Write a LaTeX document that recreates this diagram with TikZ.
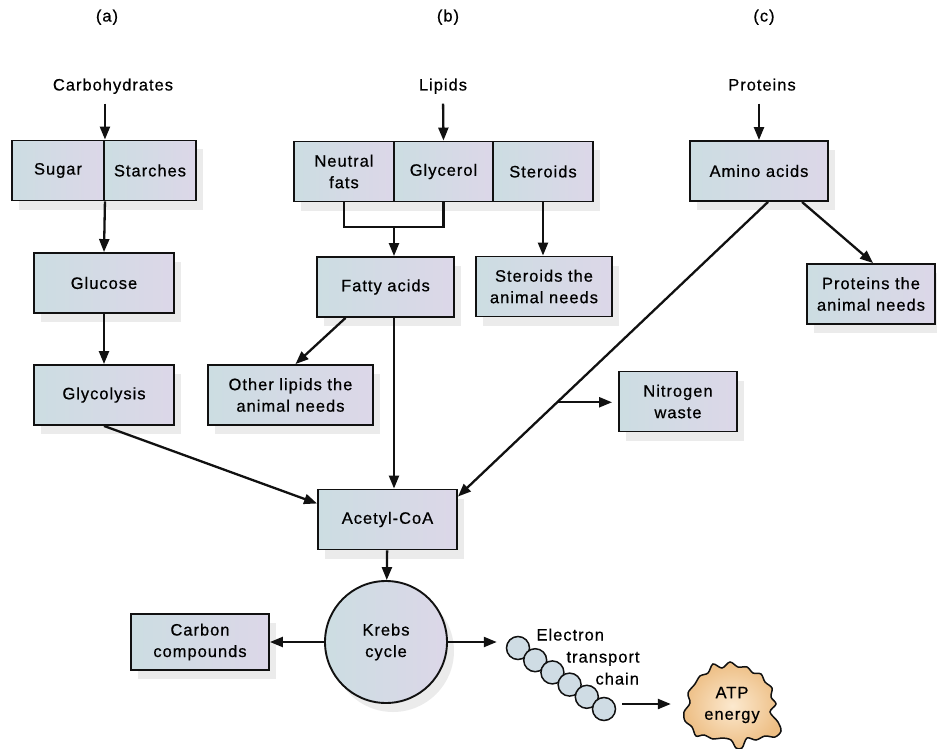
\documentclass[tikz,border=0pt]{standalone}
\usepackage{fontspec}
\setmainfont{Liberation Sans}[LetterSpace=6, FakeBold=0.6]
\usetikzlibrary{arrows.meta, shadows}
\definecolor{boxleft}{HTML}{CCDDE2}
\definecolor{boxright}{HTML}{DCD7E8}
\definecolor{linecolor}{HTML}{111111}
\definecolor{shadowcolor}{HTML}{EBEBEB}
\definecolor{atpinner}{HTML}{FCE9CF}
\definecolor{atpouter}{HTML}{EDBE84}
\definecolor{beadfill}{HTML}{CFDCE4}
\newcommand{\txt}{\fontsize{16.5}{21.5}\selectfont}
\tikzset{
    box/.style={draw=linecolor, line width=1.9pt, left color=boxleft, right color=boxright,
        align=center, inner sep=0pt, minimum height=60pt, font=\txt,
        drop shadow={shadow xshift=7pt, shadow yshift=-9pt, fill=shadowcolor, opacity=1}},
    heading/.style={font=\txt, text height=0.75em, text depth=0.25em},
    arr/.style={draw=linecolor, line width=2.3pt, -{Triangle[length=13pt, width=10pt]}},
    link/.style={draw=linecolor, line width=2.3pt},
    bead/.style={circle, draw=linecolor, line width=1.5pt, fill=beadfill, minimum size=23pt, inner sep=0pt}
}

\begin{document}
\begin{tikzpicture}[x=1pt, y=-1pt]
        \useasboundingbox (0,0) rectangle (937,749);

        \node[heading] (parta) at (107,19) {(a)};
        \node[heading] (partb) at (448,19) {(b)};
        \node[heading] (partc) at (764,19) {(c)};

        \node[heading] (carbo) at (113,88) {Carbohydrates};
        \node[heading] (lipids) at (443,88) {Lipids};
        \node[heading] (proteins) at (762,88) {Proteins};

        % carbohydrates
        \node[box, minimum width=92pt] (sugar) at (58,170.5) {Sugar};
        \node[box, minimum width=92pt] (starches) at (150,170.5) {Starches};
        \node[box, minimum width=140pt] (glucose) at (104,283) {Glucose};
        \node[box, minimum width=140pt] (glycolysis) at (104,395) {Glycolysis};

        % lipids
        \node[box, minimum width=100pt] (neutral) at (344,171.5) {Neutral\\fats};
        \node[box, minimum width=99pt] (glycerol) at (443.5,171.5) {Glycerol};
        \node[box, minimum width=100pt] (steroids) at (543,171.5) {Steroids};
        \node[box, minimum width=137pt] (fatty) at (385.5,287) {Fatty acids};
        \node[box, minimum width=136pt] (sterneed) at (544,286.5) {Steroids the\\animal needs};
        \node[box, minimum width=165pt] (otherlip) at (290.5,395) {Other lipids the\\animal needs};

        % proteins
        \node[box, minimum width=138pt] (amino) at (759,171) {Amino acids};
        \node[box, minimum width=128pt] (protneed) at (871,294) {Proteins the\\animal needs};
        \node[box, minimum width=118pt] (nitrogen) at (678,401.5) {Nitrogen\\waste};

        \node[box, minimum width=139pt] (acetyl) at (387.5,519.5) {Acetyl-CoA};
        \node[box, circle, minimum size=122pt] (krebs) at (386,642) {Krebs\\cycle};
        \node[box, minimum width=138pt, minimum height=56pt] (carbon) at (200,642) {Carbon\\compounds};

        \foreach \i in {1,...,6}
            \node[bead] (etc\i) at ({518+17.2*(\i-1)},{648+12.2*(\i-1)}) {};
        \node[heading, anchor=west] (etca) at (533,638) {Electron};
        \node[heading, anchor=west] (etcb) at (563,660) {transport};
        \node[heading, anchor=west] (etcc) at (592,682) {chain};

        \draw[draw=linecolor, line width=1.5pt, inner color=atpinner, outer color=atpouter]
            plot[smooth cycle, tension=0.55] coordinates {
            (684,712) (690,703) (688,693) (695,684) (700,676) (708,673) (713,664) (722,668)
            (730,662) (738,667) (747,667) (753,673) (761,674) (765,682) (772,688) (771,697)
            (776,704) (770,712) (778,722) (781,731) (775,737) (765,736) (756,740) (747,738)
            (742,748) (736,748) (731,740) (722,738) (713,739) (704,735) (696,736) (692,727)
            (685,721)};
        \node[font=\txt, align=center, minimum width=98pt] (atp) at (732,705) {ATP\\energy};

        \coordinate (join) at (394,227);

        \draw[arr, shorten <=7pt] (carbo.south -| sugar.north east) -- (sugar.north east);
        \draw[arr] (sugar.south east) -- (glucose.north);
        \draw[arr] (glucose) -- (glycolysis);
        \draw[arr] (glycolysis.south) -- ([yshift=16pt]acetyl.west);

        \draw[arr, shorten <=7pt] (lipids.south) -- (glycerol.north);
        \draw[link] (neutral.south) |- (join) -| (glycerol.south);
        \draw[arr] (join) -- (join |- fatty.north);
        \draw[arr] (steroids.south) -- (sterneed.north -| steroids.south);
        \draw[arr] ([xshift=-40pt]fatty.south) -- ([xshift=5pt]otherlip.north);
        \draw[arr] (join |- fatty.south) -- (join |- acetyl.north);

        \draw[arr, shorten <=7pt] (proteins.south -| amino.north) -- (amino.north);
        \draw[arr] ([xshift=43pt]amino.south) -- ([xshift=2pt]protneed.north);
        \draw[arr] ([xshift=9pt]amino.south) -- coordinate[pos=0.68] (nbranch) ([yshift=-8pt]acetyl.north east);
        \draw[arr, shorten >=6pt] (nbranch) -- (nbranch -| nitrogen.west);

        \draw[arr] (acetyl) -- (krebs);
        \draw[arr] (krebs) -- (carbon);
        \draw[arr, shorten >=9pt] (krebs.east) -- (krebs.east -| etc1.west);
        \draw[arr, shorten <=6pt, shorten >=12pt] ([yshift=5pt]etc6.east) -- ([yshift=5pt]etc6.east -| atp.west);
    \end{tikzpicture}
\end{document}
